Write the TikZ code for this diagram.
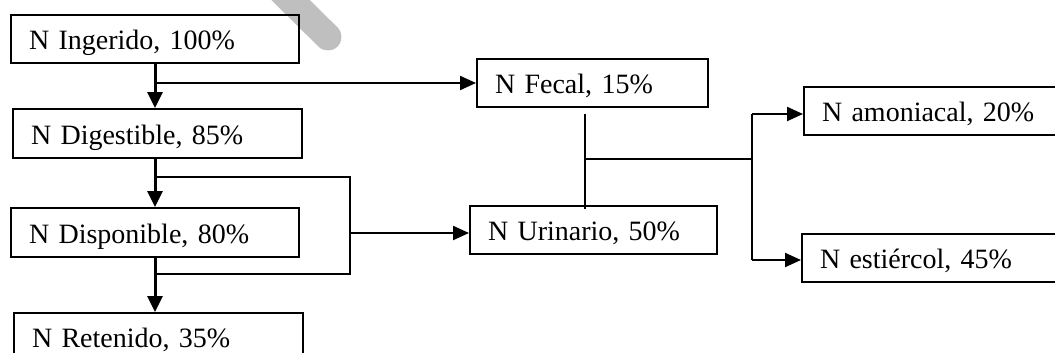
\documentclass[tikz,border=0pt]{standalone}
\usepackage{fontspec}
\setmainfont{Liberation Serif}
\usetikzlibrary{arrows.meta,calc}
\begin{document}
\begin{tikzpicture}[x=1pt,y=-1pt,
 box/.style={draw, line width=2pt, anchor=north west, inner xsep=18pt, inner ysep=0pt, minimum height=48pt, text width=#1, align=left, text height=22pt, text depth=1pt, font=\fontsize{28}{33}\selectfont},
 conn/.style={line width=2pt},
 arr/.style={line width=2.2pt, -{Triangle[length=16pt,width=14pt]}},
 varr/.style={line width=3pt, -{Triangle[length=16pt,width=15pt]}}]
\clip (0,0) rectangle (1055,353);
\draw[black!25, line width=27pt, line cap=round] (250,-40) -- (328,37);
\node[box=252pt] (ing) at (10,14) {N Ingerido, 100\%};
\node[box=253pt, minimum height=49pt] (dig) at (12,108) {N Digestible, 85\%};
\node[box=252pt, minimum height=49pt] (disp) at (10,207) {N Disponible, 80\%};
\node[box=253pt] (ret) at (13,312) {N Retenido, 35\%};
\node[box=195pt] (fec) at (476,58) {N Fecal, 15\%};
\node[box=211pt] (uri) at (469,205) {N Urinario, 50\%};
\node[box=244pt] (amo) at (803,86) {N amoniacal, 20\%};
\node[box=244pt] (est) at (801,233) {N estiércol, 45\%};
\coordinate (j1) at (154,83);
\coordinate (b1) at (154,177);
\coordinate (b2) at (154,274);
\coordinate (jx) at (350,233);
\coordinate (u1) at (585,114);
\coordinate (u2) at (585,209);
\coordinate (m1) at (585,159);
\coordinate (m2) at (752,159);
\coordinate (r1) at (752,114);
\coordinate (r2) at (752,260);
\draw[varr] (ing.south) -- (ing.south |- dig.north);
\draw[arr] (j1) -- (j1 -| fec.west);
\draw[varr] (disp.north |- dig.south) -- (disp.north);
\draw[conn] (b1) -| (jx) |- (b2);
\draw[arr] (jx) -- (jx -| uri.west);
\draw[varr] (disp.south) -- (disp.south |- ret.north);
\draw[conn] (u1) -- (u2);
\draw[conn] (m1) -- (m2);
\draw[conn] (r1) -- (r2);
\draw[arr] (r1) -- (r1 -| amo.west);
\draw[arr] (r2) -- (r2 -| est.west);
\end{tikzpicture}
\end{document}
